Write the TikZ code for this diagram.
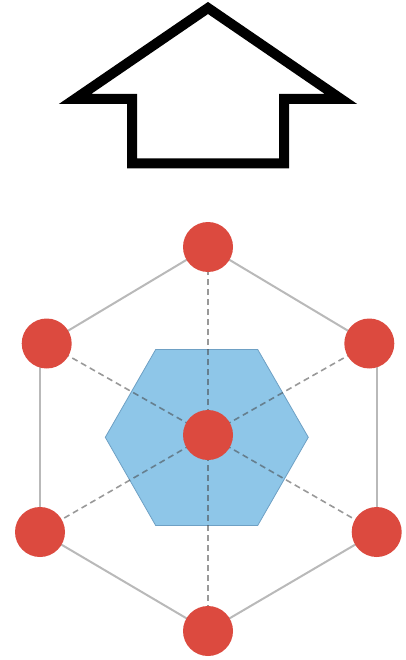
\documentclass[tikz,border=0pt]{standalone}
\usetikzlibrary{calc}
\definecolor{dotred}{RGB}{220,74,63}
\definecolor{hexblue}{RGB}{142,198,232}
\definecolor{hexedge}{RGB}{110,160,196}
\definecolor{rimgray}{RGB}{185,185,185}
\definecolor{spokegray}{RGB}{70,70,70}
\tikzset{
  site/.style={circle, fill=dotred, inner sep=0pt, minimum size=50pt},
  rim/.style={draw=rimgray, line width=2pt},
  spoke/.style={draw=spokegray, draw opacity=0.55, line width=1.6pt, dash pattern=on 6pt off 4pt},
  bigarrow/.style={draw=black, line width=10pt, miter limit=20, line join=miter, fill=white}
}
\begin{document}
\begin{tikzpicture}[x=1pt, y=-1pt]
  \useasboundingbox (0,0) rectangle (405,660);

  % hollow up arrow
  \draw[bigarrow] (208,8) -- (341,99) -- (284,99) -- (284,163.5)
        -- (132,163.5) -- (132,99) -- (75,99) -- cycle;

  % lattice sites
  \coordinate (c) at (208,435);
  \coordinate (pt) at (208,247);
  \coordinate (pul) at (46.7,343.5);
  \coordinate (pur) at (369.3,343.5);
  \coordinate (pll) at (40,532);
  \coordinate (plr) at (376.7,532);
  \coordinate (pb) at (208,631);

  % outer rim
  \draw[rim] (pt) -- (pul);
  \draw[rim] (pt) -- (pur);
  \draw[rim] (pll) -- (pll |- pul);
  \draw[rim] (plr) -- (plr |- pur);
  \draw[rim] (pll) -- (pb);
  \draw[rim] (plr) -- (pb);

  % central hexagonal cell
  \fill[hexblue] (155.7,349.5) -- (257.7,349.5) -- (308.3,437.3)
        -- (257.7,525.5) -- (155.7,525.5) -- (105.3,437.3) -- cycle;
  \draw[hexedge, line width=0.8pt] (155.7,349.5) -- (257.7,349.5) -- (308.3,437.3)
        -- (257.7,525.5) -- (155.7,525.5) -- (105.3,437.3) -- cycle;

  % spokes from the centre
  \foreach \p in {pt,pul,pur,pll,plr,pb}
    \draw[spoke] (c) -- (\p);

  % sites
  \node[site] (nc) at (c) {};
  \node[site] (nt) at (pt) {};
  \node[site] (nul) at (pul) {};
  \node[site] (nur) at (pur) {};
  \node[site] (nll) at (pll) {};
  \node[site] (nlr) at (plr) {};
  \node[site] (nb) at (pb) {};
\end{tikzpicture}
\end{document}
